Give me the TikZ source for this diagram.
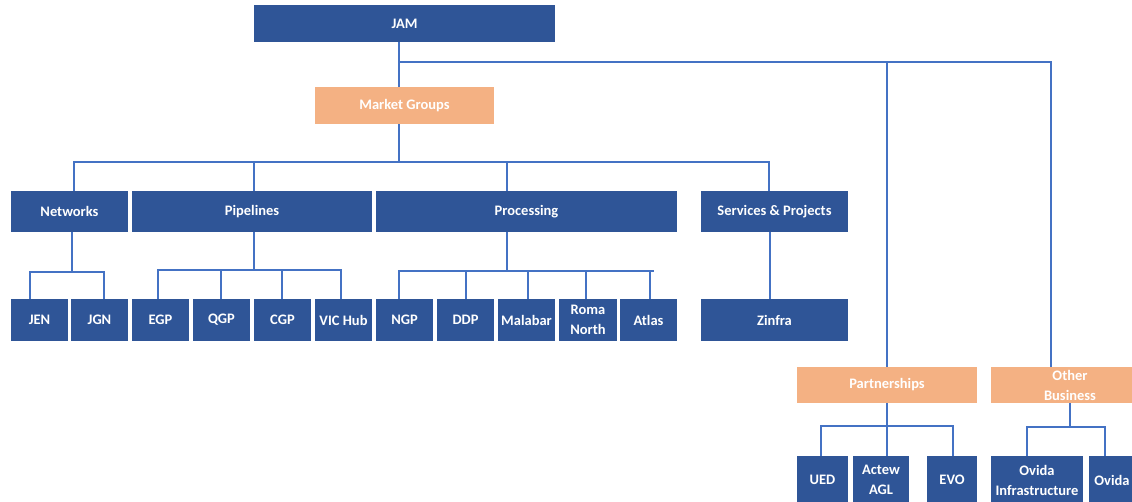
\documentclass[tikz,border=0pt]{standalone}
\usepackage{fontspec}
\setmainfont{Carlito}
\definecolor{boxblue}{HTML}{2F5597}
\definecolor{boxorange}{HTML}{F4B183}
\definecolor{linkblue}{HTML}{4472C4}
\begin{document}
\begin{tikzpicture}[x=1pt,y=-1pt,
  base/.style={rectangle, inner sep=0pt, text=white, align=center,
    font=\fontsize{14.5}{20}\selectfont\bfseries},
  bbox/.style={base, fill=boxblue},
  obox/.style={base, fill=boxorange},
  conn/.style={draw=linkblue, line width=2pt}]
\useasboundingbox (0,0) rectangle (1132,501);
\clip (0,0) rectangle (1132,501);
% level 0 / 1
\node[bbox, minimum width=301, minimum height=37] (JAM) at (404.5,23.5) {JAM};
\node[obox, minimum width=179, minimum height=37] (MG) at (404.5,105.5) {Market Groups};
% level 2
\node[bbox, minimum width=117, minimum height=41] (NET) at (69.5,211.5) {Networks};
\node[bbox, minimum width=240, minimum height=41] (PIP) at (252,211.5) {Pipelines};
\node[bbox, minimum width=301, minimum height=41] (PRO) at (526.5,211.5) {Processing};
\node[bbox, minimum width=147, minimum height=41] (SER) at (774.5,211.5) {Services \& Projects};
% level 3
\node[bbox, minimum width=57, minimum height=42] (JEN) at (39.5,320) {JEN};
\node[bbox, minimum width=57, minimum height=42] (JGN) at (99.5,320) {JGN};
\node[bbox, minimum width=57, minimum height=42] (EGP) at (160.5,320) {EGP};
\node[bbox, minimum width=57, minimum height=42] (QGP) at (221.5,320) {QGP};
\node[bbox, minimum width=57, minimum height=42] (CGP) at (282.5,320) {CGP};
\node[bbox, minimum width=57, minimum height=42] (VIC) at (343.5,320) {VIC Hub};
\node[bbox, minimum width=57, minimum height=42] (NGP) at (404.5,320) {NGP};
\node[bbox, minimum width=57, minimum height=42] (DDP) at (465.5,320) {DDP};
\node[bbox, minimum width=57, minimum height=42] (MAL) at (526.5,320) {Malabar};
\node[bbox, minimum width=58, minimum height=42] (ROM) at (588,320) {Roma\\North};
\node[bbox, minimum width=57, minimum height=42] (ATL) at (648.5,320) {Atlas};
\node[bbox, minimum width=147, minimum height=42] (ZIN) at (774.5,320) {Zinfra};
% right branches
\node[obox, minimum width=180, minimum height=36] (PAR) at (887,385) {Partnerships};
\node[obox, minimum width=158, minimum height=36] (OTH) at (1070,385) {Other\\Business};
\node[bbox, minimum width=51, minimum height=48] (UED) at (822.5,480) {UED};
\node[bbox, minimum width=56, minimum height=48] (ACT) at (881,480) {Actew\\AGL};
\node[bbox, minimum width=50, minimum height=48] (EVO) at (952,480) {EVO};
\node[bbox, minimum width=92, minimum height=48] (OVI) at (1037,480) {Ovida\\Infrastructure};
\node[bbox, minimum width=46, minimum height=48] (OVD) at (1112,480) {Ovida};
% connector coordinates
\coordinate (t0) at (399,62);
\coordinate (tp) at (887,62);
\coordinate (to) at (1051,62);
\coordinate (mb) at (399,162);
\coordinate (mb1) at (74,162);
\coordinate (mb2) at (254,162);
\coordinate (mb3) at (507,162);
\coordinate (mb4) at (769,162);
\coordinate (nb) at (72,272);
\coordinate (nb1) at (30,272);
\coordinate (nb2) at (104,272);
\coordinate (pb) at (254,270);
\coordinate (pb1) at (158,270);
\coordinate (pb2) at (221,270);
\coordinate (pb3) at (282,270);
\coordinate (pb4) at (341,270);
\coordinate (rb) at (507,271);
\coordinate (rb1) at (399,271);
\coordinate (rb2) at (466,271);
\coordinate (rb3) at (528,271);
\coordinate (rb4) at (586,271);
\coordinate (rb5) at (650,271);
\coordinate (rbe) at (654,271);
\coordinate (sv) at (770,0);
\coordinate (ab) at (887,426);
\coordinate (ab1) at (821,426);
\coordinate (ab3) at (953,426);
\coordinate (ob) at (1070,427);
\coordinate (ob1) at (1027,427);
\coordinate (ob2) at (1105,427);
% top trunk
\draw[conn] (JAM.south -| t0) -- (MG.north -| t0);
\draw[conn] (t0) -- (to) -- (to |- OTH.north);
\draw[conn] (tp) -- (tp |- PAR.north);
% market groups bus
\draw[conn] (MG.south -| mb) -- (mb);
\draw[conn] (mb1 |- NET.north) -- (mb1) -- (mb4) -- (mb4 |- SER.north);
\draw[conn] (mb2) -- (mb2 |- PIP.north);
\draw[conn] (mb3) -- (mb3 |- PRO.north);
% networks
\draw[conn] (NET.south -| nb) -- (nb);
\draw[conn] (nb1 |- JEN.north) -- (nb1) -- (nb2) -- (nb2 |- JGN.north);
% pipelines
\draw[conn] (PIP.south -| pb) -- (pb);
\draw[conn] (pb1 |- EGP.north) -- (pb1) -- (pb4) -- (pb4 |- VIC.north);
\draw[conn] (pb2) -- (pb2 |- QGP.north);
\draw[conn] (pb3) -- (pb3 |- CGP.north);
% processing
\draw[conn] (PRO.south -| rb) -- (rb);
\draw[conn] (rb1 |- NGP.north) -- (rb1) -- (rbe);
\draw[conn] (rb2) -- (rb2 |- DDP.north);
\draw[conn] (rb3) -- (rb3 |- MAL.north);
\draw[conn] (rb4) -- (rb4 |- ROM.north);
\draw[conn] (rb5) -- (rb5 |- ATL.north);
% services
\draw[conn] (SER.south -| sv) -- (ZIN.north -| sv);
% partnerships
\draw[conn] (PAR.south -| ab) -- (ab);
\draw[conn] (ab1 |- UED.north) -- (ab1) -- (ab3) -- (ab3 |- EVO.north);
\draw[conn] (ab) -- (ab |- ACT.north);
% other business
\draw[conn] (OTH.south -| ob) -- (ob);
\draw[conn] (ob1 |- OVI.north) -- (ob1) -- (ob2) -- (ob2 |- OVD.north);
\end{tikzpicture}
\end{document}
